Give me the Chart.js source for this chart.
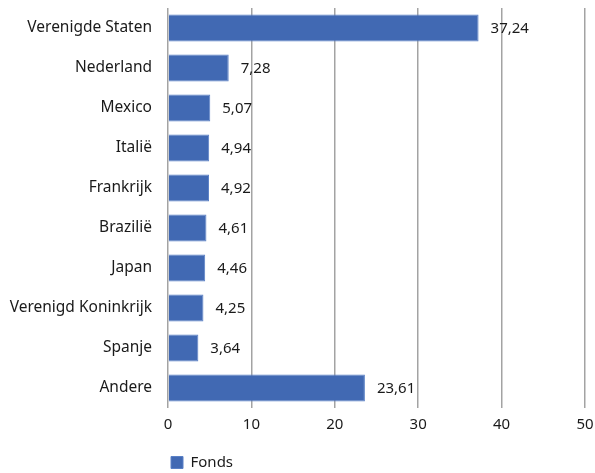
<!DOCTYPE html>
<html lang="nl">
<head>
    <meta charset="UTF-8">
    <title>Fonds per land</title>
    <script src="https://cdn.jsdelivr.net/npm/chart.js"></script>
    <style>
        html, body { margin: 0; padding: 0; background: #fff; }
    </style>
</head>
<body>

<canvas id="landenChart" width="595" height="473"></canvas>

<script>
    const landen = ['Verenigde Staten', 'Nederland', 'Mexico', 'Italië', 'Frankrijk',
        'Brazilië', 'Japan', 'Verenigd Koninkrijk', 'Spanje', 'Andere'];
    const fonds = [37.24, 7.28, 5.07, 4.94, 4.92, 4.61, 4.46, 4.25, 3.64, 23.61];
    const xTicks = [0, 10, 20, 30, 40, 50];

    const fontFamily = '"Noto Sans", sans-serif';
    const textColor = '#1a1a1a';

    const fmt = v => v.toFixed(2).replace('.', ',');

    // waarde rechts naast elke balk
    const valueLabels = {
        id: 'valueLabels',
        afterDatasetsDraw(chart) {
            const ctx = chart.ctx;
            const meta = chart.getDatasetMeta(0);
            ctx.save();
            ctx.font = '15px ' + fontFamily;
            ctx.fillStyle = textColor;
            ctx.textAlign = 'left';
            ctx.textBaseline = 'middle';
            meta.data.forEach((bar, i) => {
                ctx.fillText(fmt(fonds[i]), bar.x + 12, bar.y + 1);
            });
            ctx.restore();
        }
    };

    new Chart(document.getElementById('landenChart').getContext('2d'), {
        type: 'bar',
        data: {
            labels: landen,
            datasets: [{
                label: 'Fonds',
                data: fonds,
                backgroundColor: '#4169b3',
                borderColor: '#5a80c6',
                borderWidth: 1,
                barPercentage: 0.68,
                categoryPercentage: 1
            }]
        },
        options: {
            indexAxis: 'y',
            responsive: false,
            animation: false,
            layout: {
                padding: { top: 8, right: 10, bottom: -7, left: 0 }
            },
            plugins: {
                tooltip: { enabled: false },
                legend: {
                    position: 'bottom',
                    align: 'start',
                    fullSize: false,
                    labels: {
                        boxWidth: 12,
                        boxHeight: 12,
                        padding: 3,
                        color: textColor,
                        font: { family: fontFamily, size: 15 }
                    }
                }
            },
            scales: {
                x: {
                    min: 0,
                    max: 50,
                    afterBuildTicks: axis => { axis.ticks = xTicks.map(v => ({ value: v })); },
                    afterFit: axis => {
                        axis.height = 44;
                        axis.paddingLeft = 0;
                        axis.paddingRight = 0;
                    },
                    grid: {
                        color: '#a3a3a3',
                        lineWidth: 1.5,
                        drawTicks: false
                    },
                    border: { display: false },
                    ticks: {
                        color: textColor,
                        padding: 8,
                        font: { family: fontFamily, size: 15 }
                    }
                },
                y: {
                    grid: { display: false, drawTicks: false },
                    border: { display: false },
                    afterFit: axis => {
                        axis.width = 168;
                        axis.paddingTop = 0;
                        axis.paddingBottom = 0;
                    },
                    ticks: {
                        color: textColor,
                        padding: 16,
                        font: { family: fontFamily, size: 15.5 }
                    }
                }
            }
        },
        plugins: [valueLabels]
    });
</script>

</body>
</html>
